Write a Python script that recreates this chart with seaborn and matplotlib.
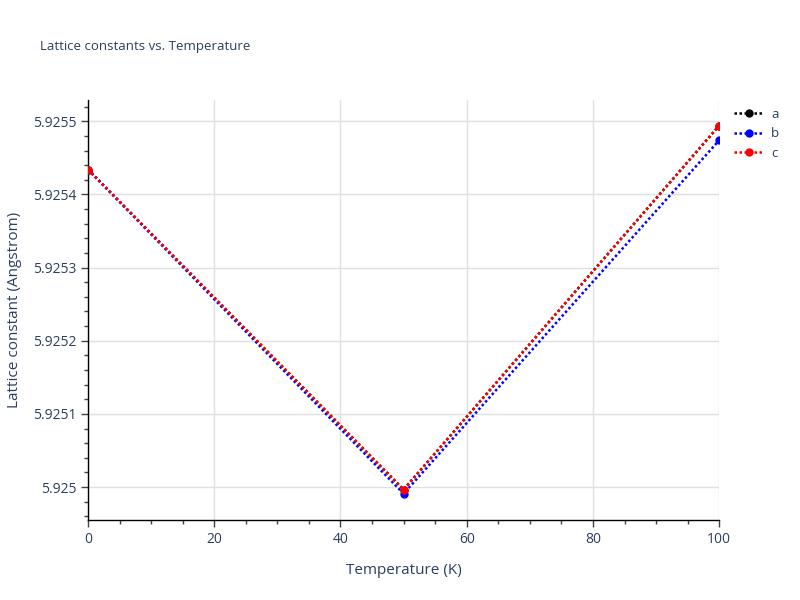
import matplotlib
matplotlib.use("Agg")
import matplotlib.pyplot as plt
import seaborn as sns
import pandas as pd
from matplotlib.ticker import MultipleLocator, FuncFormatter

temperature = [0, 50, 100]
lat_a = [5.925434, 5.9249966, 5.9254940]
lat_b = [5.925434, 5.9249910, 5.9254740]
lat_c = [5.925434, 5.9249966, 5.9254940]
series_names = ["a", "b", "c"]
colors = ["black", "blue", "red"]

rows = []
for name, vals in zip(series_names, [lat_a, lat_b, lat_c]):
    for t, v in zip(temperature, vals):
        rows.append({"Temperature": t, "value": v, "series": name})
df = pd.DataFrame(rows)

sns.set_theme(style="white")
plt.rcParams["font.family"] = ["Open Sans", "DejaVu Sans"]
txt = "#2a3f5f"

fig = plt.figure(figsize=(8, 6), dpi=100)
ax = fig.add_axes([0.11, 0.1333, 0.789, 0.7])

for name, col in zip(series_names, colors):
    sub = df[df.series == name]
    sns.lineplot(data=sub, x="Temperature", y="value", ax=ax, color=col,
                 linestyle=(0, (1, 1)), linewidth=1.8, marker="o", markersize=6,
                 markeredgewidth=0, label=name, zorder=3)

ax.set_xlim(0, 100)
ax.set_ylim(5.924955, 5.925529)
ax.xaxis.set_major_locator(MultipleLocator(20))
ax.xaxis.set_minor_locator(MultipleLocator(5))
ax.yaxis.set_major_locator(MultipleLocator(0.0001))
ax.yaxis.set_minor_locator(MultipleLocator(0.00002))

def yfmt(v, pos):
    return f"{v:.4f}".rstrip("0").rstrip(".")
ax.yaxis.set_major_formatter(FuncFormatter(yfmt))

ax.grid(True, which="major", color="#e0e0e0", linewidth=1)
ax.set_axisbelow(True)
for s in ["top", "right"]:
    ax.spines[s].set_visible(False)
for s in ["left", "bottom"]:
    ax.spines[s].set_color("black")
    ax.spines[s].set_linewidth(1)
ax.tick_params(which="major", direction="out", length=5, width=1, color="#444444",
               labelsize=10, labelcolor=txt, left=True, bottom=True)
ax.tick_params(which="minor", direction="out", length=3, width=1, color="#444444",
               left=True, bottom=True)

ax.set_xlabel("Temperature (K)", fontsize=11, color=txt, labelpad=12)
ax.set_ylabel("Lattice constant (Angstrom)", fontsize=11, color=txt, labelpad=8)
fig.text(0.05, 0.923, "Lattice constants vs. Temperature", fontsize=9.5, color=txt,
         ha="left", va="center")

leg = ax.legend(loc="upper left", bbox_to_anchor=(1.005, 1.01), frameon=False,
                fontsize=9.5, handlelength=2.2, labelspacing=0.5, handletextpad=0.6)
for t in leg.get_texts():
    t.set_color(txt)

fig.savefig("out.png", dpi=100)
